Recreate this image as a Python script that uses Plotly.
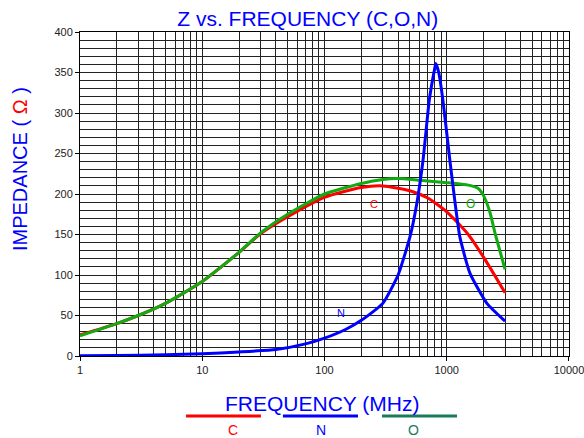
import plotly.graph_objects as go

# Frequencies (MHz) and impedance (ohm)
freq_c = [1, 2, 3, 5, 10, 20, 30, 50, 100, 200, 300, 500, 700, 1000, 1500, 2000, 3000]
imp_c = [26, 40, 50, 65, 92, 128, 151, 172, 196, 208, 210, 204, 195, 178, 150, 122, 78]

freq_o = [1, 2, 3, 5, 10, 20, 30, 50, 100, 200, 300, 400, 600, 1000, 1500, 1800, 2000, 2250, 2500, 3000]
imp_o = [25, 40, 50, 65, 92, 128, 152, 175, 200, 213, 218, 219, 217, 214, 211, 207, 198, 178, 150, 107]

freq_n = [1, 2, 5, 10, 20, 40, 70, 100, 150, 200, 300, 400, 500, 570, 640, 720, 800, 814,
          860, 930, 1060, 1170, 1280, 1550, 2130, 3000]
imp_n = [0.3, 0.6, 1.5, 2.8, 5, 8, 15, 22, 33, 44, 65, 100, 147, 189, 242, 316, 356, 361,
         350, 316, 242, 189, 147, 102, 65, 43]

x_tick_vals = [1, 10, 100, 1000, 10000]
x_tick_text = ["1", "10", "100", "1000", "10000"]
y_tick_vals = [0, 50, 100, 150, 200, 250, 300, 350, 400]

RED = "#ff0000"
BLUE = "#0000ff"
GREEN = "#11aa11"
TEAL = "#1a7a5a"
FONT = "Liberation Sans, Arial, sans-serif"

fig = go.Figure()
fig.add_trace(go.Scatter(x=freq_c, y=imp_c, mode="lines", name="C",
                         line=dict(color=RED, width=3, shape="spline", smoothing=0.6)))
fig.add_trace(go.Scatter(x=freq_o, y=imp_o, mode="lines", name="O",
                         line=dict(color=GREEN, width=3, shape="spline", smoothing=0.5)))
fig.add_trace(go.Scatter(x=freq_n, y=imp_n, mode="lines", name="N",
                         line=dict(color=BLUE, width=3, shape="spline", smoothing=0.5)))

grid_col = "#222222"
fig.update_layout(
    width=584, height=438,
    margin=dict(l=80, r=15, t=32, b=82, autoexpand=False),
    paper_bgcolor="white", plot_bgcolor="white",
    showlegend=False,
    font=dict(family=FONT, size=11, color="#222222"),
    title=dict(text="Z vs. FREQUENCY (C,O,N)", x=0.527, xanchor="center",
               y=0.957, yanchor="middle",
               font=dict(family=FONT, size=21, color=BLUE)),
    xaxis=dict(type="log", range=[0, 4.0001], tickvals=x_tick_vals, ticktext=x_tick_text,
               automargin=False, ticklabeloverflow="allow",
               showgrid=True, gridcolor=grid_col, gridwidth=1,
               minor=dict(dtick="D1", showgrid=True, gridcolor=grid_col, gridwidth=1, ticks=""),
               ticks="outside", ticklen=4, tickcolor="black",
               showline=True, linecolor="black", linewidth=1, mirror=True,
               zeroline=False, tickfont=dict(size=11, color="#222222")),
    yaxis=dict(range=[0, 400], tickvals=y_tick_vals, automargin=False,
               showgrid=True, gridcolor=grid_col, gridwidth=1,
               minor=dict(dtick=10, showgrid=True, gridcolor=grid_col, gridwidth=1, ticks=""),
               ticks="outside", ticklen=4, tickcolor="black",
               showline=True, linecolor="black", linewidth=1, mirror=True,
               zeroline=False, tickfont=dict(size=11, color="#222222")),
)

# Y axis title
fig.add_annotation(x=-0.1227, y=0.577, xref="paper", yref="paper", textangle=-90,
                   text="IMPEDANCE ( <span style='color:#ff0000'>Ω</span> )", showarrow=False,
                   xanchor="center", yanchor="middle",
                   font=dict(family=FONT, size=20, color=BLUE))

# Inline curve labels
fig.add_annotation(x=2.404, y=188, xref="x", yref="y", text="C", showarrow=False,
                   font=dict(family=FONT, size=11, color=RED))
fig.add_annotation(x=3.197, y=188, xref="x", yref="y", text="O", showarrow=False,
                   font=dict(family=FONT, size=12, color=GREEN))
fig.add_annotation(x=2.134, y=53, xref="x", yref="y", text="N", showarrow=False,
                   font=dict(family=FONT, size=11, color=BLUE))

# X axis title
fig.add_annotation(x=0.495, y=-0.147, xref="paper", yref="paper", text="FREQUENCY (MHz)",
                   showarrow=False, yanchor="middle",
                   font=dict(family=FONT, size=21, color=BLUE))

# Legend-like keys below the title
legend_items = [("C", RED, RED, 0.2168, 0.370, 0.2986),
                ("N", BLUE, BLUE, 0.415, 0.5685, 0.493),
                ("O", TEAL, TEAL, 0.6176, 0.771, 0.697)]
for lab, lcol, tcol, x0, x1, xt in legend_items:
    fig.add_shape(type="line", xref="paper", yref="paper", x0=x0, x1=x1, y0=-0.185, y1=-0.185,
                  line=dict(color=lcol, width=3))
    fig.add_annotation(x=xt, y=-0.228, xref="paper", yref="paper", text=lab, showarrow=False,
                       yanchor="middle", font=dict(family=FONT, size=14, color=tcol))

fig.write_html("out.html", config={"displayModeBar": False},
               post_script="document.body.style.margin='0';document.body.style.overflow='hidden';")
